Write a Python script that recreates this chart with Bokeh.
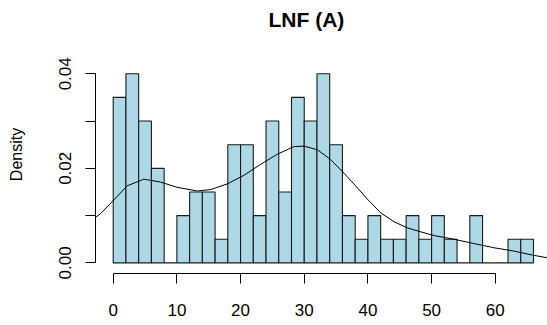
from bokeh.plotting import figure
from bokeh.models import Range1d, FixedTicker
from bokeh.embed import file_html
from bokeh.resources import INLINE

# Histogram: bin left edges (width 2) and densities
bin_left = list(range(0, 66, 2))
density = [0.035, 0.040, 0.030, 0.020, 0.000, 0.010, 0.015, 0.015, 0.005, 0.025,
           0.025, 0.010, 0.030, 0.015, 0.035, 0.030, 0.040, 0.025, 0.010, 0.005,
           0.010, 0.005, 0.005, 0.010, 0.005, 0.010, 0.005, 0.000, 0.010, 0.000,
           0.000, 0.005, 0.005]
bin_width = 2

# Kernel density curve
kde_x = [-3.0, -2.0, 0.1, 2.2, 4.8, 7.4, 10.0, 13.2, 15.3, 17.9, 20.5, 23.1, 25.8,
         28.4, 30.0, 32.1, 34.1, 36.0, 37.8, 39.9, 42.0, 44.1, 46.2, 48.2, 50.3,
         53.5, 56.6, 59.8, 62.9, 66.0, 68.5]
kde_y = [0.0094, 0.0104, 0.0133, 0.0163, 0.0177, 0.0171, 0.0160, 0.0152, 0.0155,
         0.0167, 0.0185, 0.0208, 0.0230, 0.0246, 0.0247, 0.0239, 0.0219, 0.0193,
         0.0167, 0.0135, 0.0106, 0.0087, 0.0074, 0.0066, 0.0058, 0.0050, 0.0041,
         0.0032, 0.0025, 0.0016, 0.0010]

x_ticks = [0, 10, 20, 30, 40, 50, 60]
y_ticks = [0.00, 0.01, 0.02, 0.03, 0.04]
y_tick_labels = {0.0: "0.00", 0.01: "", 0.02: "0.02", 0.03: "", 0.04: "0.04"}

FONT = "Liberation Sans"

p = figure(width=547, height=325, output_backend="svg", toolbar_location=None,
           x_range=Range1d(-2.78, 68.2), y_range=Range1d(-0.00225, 0.0481),
           min_border_left=95, min_border_right=0, min_border_bottom=52,
           min_border_top=0)
p.outline_line_color = None
p.xgrid.visible = False
p.ygrid.visible = False
p.background_fill_color = "white"
p.border_fill_color = "white"

rights = [b + bin_width for b in bin_left]
p.quad(left=bin_left, right=rights, bottom=[0] * len(density), top=density,
       fill_color="#ADD8E6", line_color="#1a1a1a", line_width=1.1)
p.line(kde_x, kde_y, line_color="black", line_width=1)

p.title.text = "LNF (A)"
p.title.text_font = FONT
p.title.text_font_size = "21px"
p.title.text_font_style = "bold"
p.title.text_color = "black"
p.title.align = "left"
p.title.offset = 173

xa = p.xaxis[0]
xa.ticker = FixedTicker(ticks=x_ticks)
xa.bounds = (0, 60)
xa.minor_tick_line_color = None
xa.major_tick_out = 10
xa.major_tick_in = 0
xa.major_label_standoff = 20
xa.major_label_text_font = FONT
xa.major_label_text_font_size = "17px"
xa.major_label_text_color = "black"
xa.axis_line_color = "black"
xa.major_tick_line_color = "black"

ya = p.yaxis[0]
ya.ticker = FixedTicker(ticks=y_ticks)
ya.bounds = (0, 0.04)
ya.minor_tick_line_color = None
ya.major_tick_out = 10
ya.major_tick_in = 0
ya.major_label_orientation = "vertical"
ya.major_label_overrides = y_tick_labels
ya.major_label_standoff = 14
ya.major_label_text_font = FONT
ya.major_label_text_font_size = "17px"
ya.major_label_text_color = "black"
ya.axis_line_color = "black"
ya.major_tick_line_color = "black"
ya.axis_label = "Density"
ya.axis_label_text_font = FONT
ya.axis_label_text_font_size = "16px"
ya.axis_label_text_font_style = "normal"
ya.axis_label_text_color = "black"
ya.axis_label_standoff = 32

open("out.html", "w").write(file_html(p, INLINE))
